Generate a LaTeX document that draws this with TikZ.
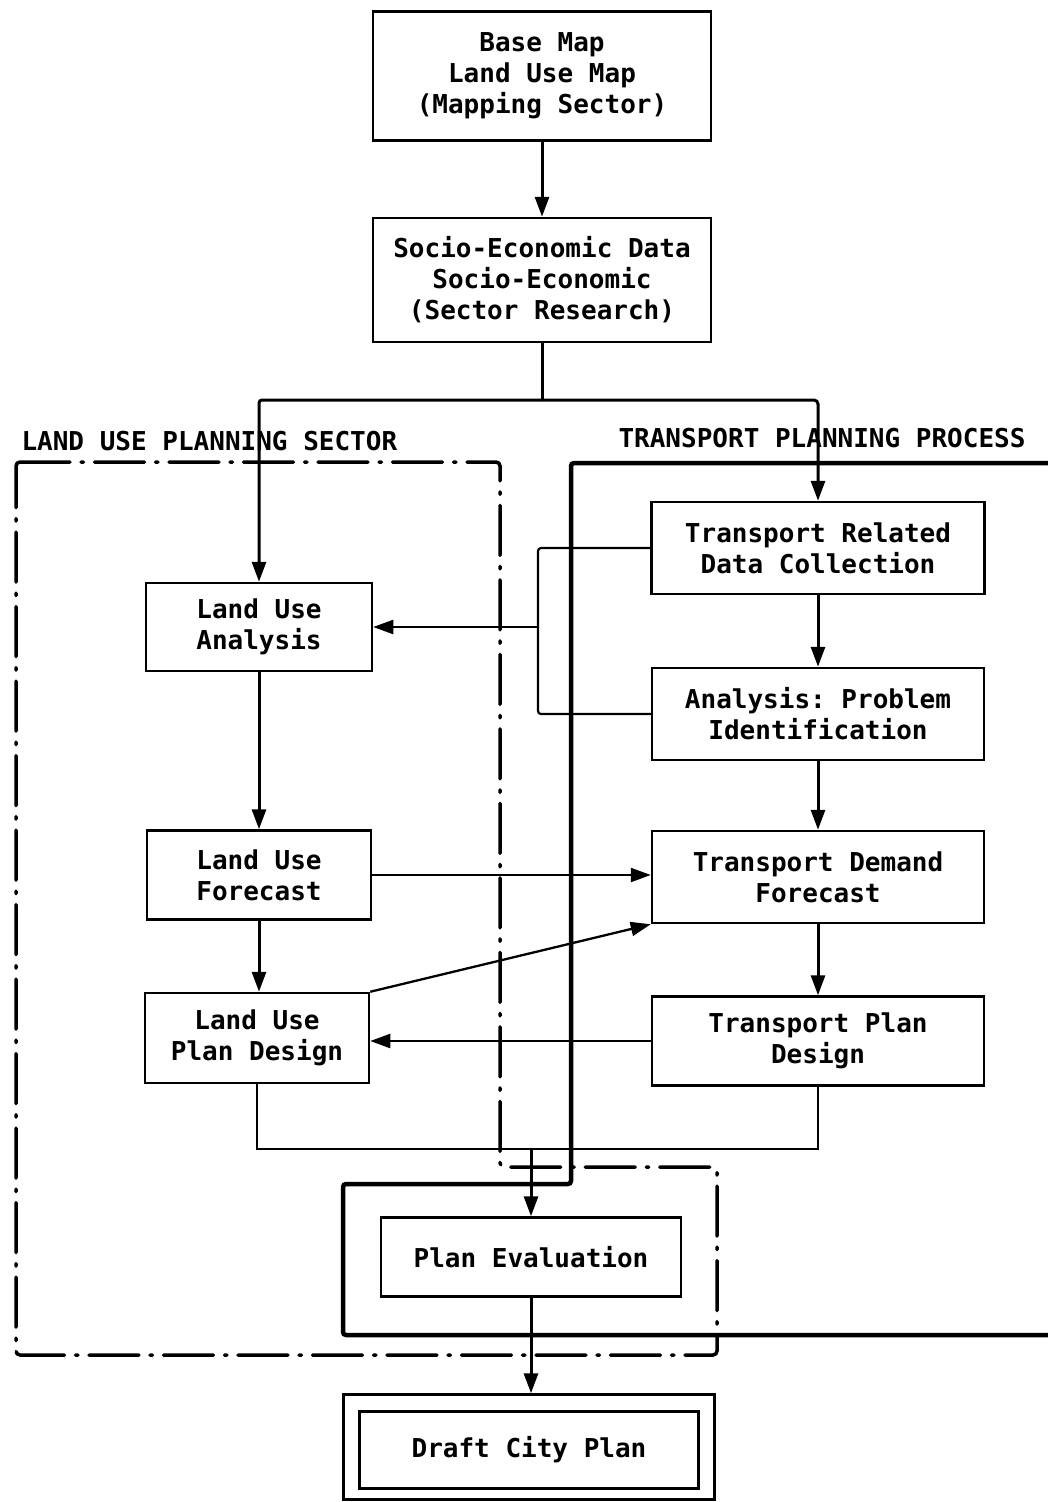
\documentclass[tikz,border=0pt]{standalone}
\usepackage{fontspec}
\setmonofont{DejaVu Sans Mono}
\usetikzlibrary{arrows.meta}
\begin{document}
\begin{tikzpicture}[x=1pt,y=-1pt,
  txt/.style={font=\ttfamily\bfseries\fontsize{26}{31}\selectfont, align=center},
  box/.style={txt, draw, line width=2.5pt, inner sep=0pt},
  conn/.style={line width=3pt},
  arr/.style={line width=3pt, -{Triangle[length=20pt,width=14pt]}},
  harr/.style={line width=2.3pt, -{Triangle[length=20pt,width=14pt]}},
  dashdotline/.style={line width=3.5pt, line cap=round, dash pattern=on 50pt off 11pt on 2.5pt off 11pt, rounded corners=4pt},
  region/.style={line width=4.5pt, rounded corners=3pt}]
\useasboundingbox (0,0) rectangle (1048,1502);

% regions
\draw[dashdotline] (16,462) -- (500,462) -- (500,1167) -- (717,1167) -- (717,1355) -- (16,1355) -- cycle;
\draw[region] (1052,463) -- (571,463) -- (571,1184) -- (343,1184) -- (343,1335) -- (1052,1335);

\node[txt, anchor=west] (lulabel) at (18,441) {LAND USE PLANNING SECTOR};
\node[txt, anchor=west] (tplabel) at (615,438) {TRANSPORT PLANNING PROCESS};

% boxes
\node[box, minimum width=338pt, minimum height=129pt] (base) at (542,76) {Base Map\\Land Use Map\\(Mapping Sector)};
\node[box, minimum width=338pt, minimum height=124pt] (socio) at (542,280) {Socio-Economic Data\\Socio-Economic\\(Sector Research)};

\node[box, minimum width=333pt, minimum height=92pt] (trd) at (818,548) {Transport Related\\Data Collection};
\node[box, minimum width=332pt, minimum height=92pt] (apid) at (818,714) {Analysis: Problem\\Identification};
\node[box, minimum width=332pt, minimum height=92pt] (tdf) at (818,877) {Transport Demand\\Forecast};
\node[box, minimum width=332pt, minimum height=89pt] (tpd) at (818,1041) {Transport Plan\\Design};

\node[box, minimum width=226pt, minimum height=88pt] (lua) at (259,627) {Land Use\\Analysis};
\node[box, minimum width=224pt, minimum height=89pt] (luf) at (259,875) {Land Use\\Forecast};
\node[box, minimum width=224pt, minimum height=90pt] (lupd) at (257,1038) {Land Use\\Plan Design};

\node[box, minimum width=300pt, minimum height=79pt] (pe) at (531,1257) {Plan Evaluation};
\node[draw, line width=2.5pt, minimum width=371pt, minimum height=105pt, inner sep=0pt] (dcp) at (529,1447) {};
\node[box, minimum width=339pt, minimum height=77pt] (dcpin) at (529,1450) {Draft City Plan};

% connectors
\draw[arr] (base.south) -- (socio.north);
\coordinate (split) at (542,400);
\draw[conn] (socio.south) -- (split);
\draw[arr, rounded corners=3pt] (split) -| (lua.north);
\draw[arr, rounded corners=4pt] (split) -| (trd.north);

\draw[arr] (trd.south) -- (apid.north);
\draw[arr] (apid.south) -- (tdf.north);
\draw[arr] (tdf.south) -- (tpd.north);

\draw[arr] (lua.south) -- (luf.north);
\draw[arr] (luf.south) -- (luf.south |- lupd.north);

\coordinate (brk) at (538,627);
\draw[conn, line width=2.2pt, rounded corners=3pt] (trd.west) -| (brk) |- (apid.west);
\draw[harr] (brk) -- (lua.east);

\draw[harr] (luf.east) -- (tdf.west |- luf.east);
\draw[harr] (lupd.north east) -- (tdf.south west);
\draw[harr] (tpd.west) -- (lupd.east |- tpd.west);

\coordinate (merge) at (531,1149);
\draw[conn, line width=2.5pt] (lupd.south) |- (merge) -| (tpd.south);
\draw[arr] (merge) -- (pe.north);
\draw[arr] (pe.south) -- (pe.south |- dcp.north);
\end{tikzpicture}
\end{document}
